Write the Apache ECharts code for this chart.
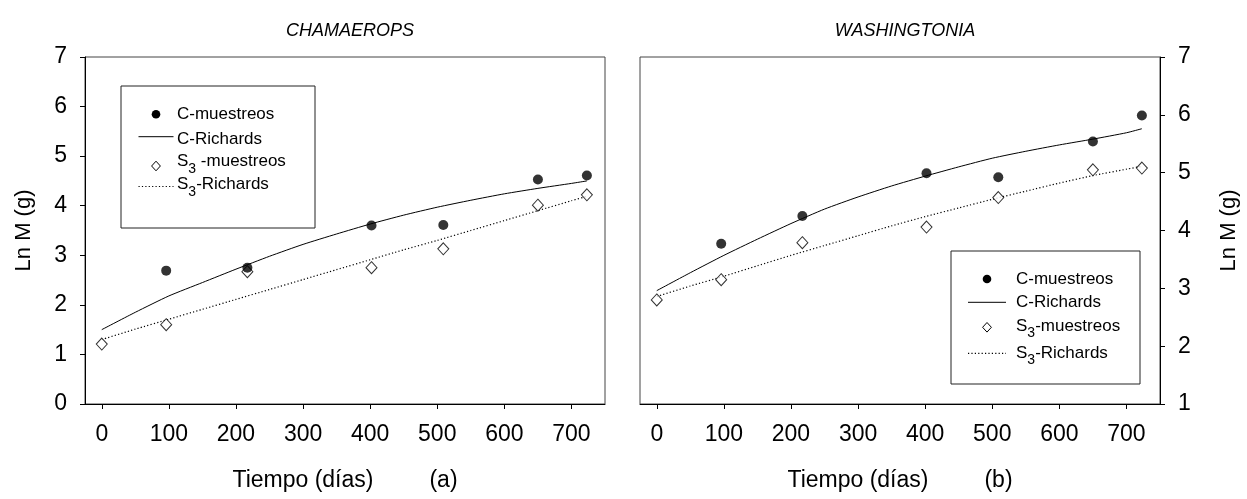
<!DOCTYPE html>
<html><head><meta charset="utf-8">
<script src="https://cdn.jsdelivr.net/npm/echarts@6/dist/echarts.min.js"></script>
<style>html,body{margin:0;padding:0;background:#fff}#chart{width:1247px;height:499px}</style>
</head><body><div id="chart"></div>
<script>
// ---- data ----
const sampleDays = [0, 96, 217, 402, 509, 650, 723];
const chamC  = [null, 2.69, 2.75, 3.60, 3.61, 4.53, 4.61];
const chamS3 = [1.21, 1.60, 2.67, 2.75, 3.13, 4.01, 4.22];
const washC  = [null, 3.77, 4.25, 4.99, 4.92, 5.54, 5.99];
const washS3 = [2.80, 3.15, 3.79, 4.06, 4.57, 5.05, 5.08];

const fitDays   = [0, 50, 100, 150, 200, 250, 300, 350, 400, 450, 500, 550, 600, 650, 700, 723];
const chamCFit  = [1.50, 1.85, 2.18, 2.45, 2.72, 2.98, 3.22, 3.43, 3.63, 3.81, 3.97, 4.11, 4.24, 4.35, 4.45, 4.50];
const chamS3Fit = [1.30, 1.51, 1.71, 1.91, 2.11, 2.31, 2.51, 2.71, 2.91, 3.11, 3.30, 3.50, 3.70, 3.90, 4.10, 4.19];
const washCFit  = [2.96, 3.27, 3.57, 3.85, 4.12, 4.37, 4.58, 4.77, 4.94, 5.10, 5.25, 5.37, 5.48, 5.58, 5.69, 5.76];
const washS3Fit = [2.86, 3.04, 3.21, 3.39, 3.57, 3.74, 3.91, 4.08, 4.24, 4.39, 4.54, 4.68, 4.82, 4.95, 5.06, 5.11];

const xTicks = [0, 100, 200, 300, 400, 500, 600, 700];
const titles = ['CHAMAEROPS', 'WASHINGTONIA'];
const panelTags = ['(a)', '(b)'];
const seriesNames = ['C-muestreos', 'C-Richards', 'S3-muestreos', 'S3-Richards'];

// ---- chart ----
const FONT = '"Liberation Sans", Arial, Helvetica, sans-serif';
const pairs = (xs, ys) => xs.map((x, i) => ys[i] == null ? null : [x, ys[i]]).filter(p => p);

function xAxis(g, tag) {
  return {
    gridIndex: g, type: 'value', min: -25, max: 750,
    axisLine: { show: true, onZero: false, lineStyle: { color: '#000', width: 1 } },
    axisTick: { show: true, length: 5, customValues: xTicks, lineStyle: { color: '#000' } },
    axisLabel: { customValues: xTicks, margin: 19, fontSize: 23, color: '#000', fontFamily: FONT },
    splitLine: { show: false },
    name: '{t|Tiempo (días)}{s|' + tag + '}',
    nameLocation: 'middle', nameGap: 65,
    nameTextStyle: {
      fontFamily: FONT, color: '#000', fontSize: 23,
      rich: { t: { fontSize: 23, fontFamily: FONT, color: '#000' },
              s: { fontSize: 23, fontFamily: FONT, color: '#000', padding: [0, 0, 0, 56] } }
    }
  };
}
function yAxis(g, pos, min, gap) {
  return {
    gridIndex: g, type: 'value', position: pos, min: min, max: 7, interval: 1,
    axisLine: { show: true, onZero: false, lineStyle: { color: '#000', width: 1 } },
    axisTick: { show: true, length: 5, lineStyle: { color: '#000' } },
    axisLabel: { margin: 18, fontSize: 23, color: '#000', fontFamily: FONT },
    splitLine: { show: false },
    name: 'Ln M (g)', nameLocation: 'middle', nameGap: gap, nameRotate: 90,
    nameTextStyle: { fontSize: 22, color: '#000', fontFamily: FONT }
  };
}
function panelSeries(g, cPts, cFit, sPts, sFit) {
  return [
    { name: seriesNames[1], type: 'line', xAxisIndex: g, yAxisIndex: g, data: pairs(fitDays, cFit),
      showSymbol: false, symbol: 'none', smooth: 0.2, z: 2, silent: true,
      lineStyle: { color: '#000', width: 1, type: 'solid' }, itemStyle: { color: '#000' } },
    { name: seriesNames[3], type: 'line', xAxisIndex: g, yAxisIndex: g, data: pairs(fitDays, sFit),
      showSymbol: false, symbol: 'none', smooth: 0.2, z: 2, silent: true,
      lineStyle: { color: '#000', width: 1.2, type: [1.2, 2.2] }, itemStyle: { color: '#000' } },
    { name: seriesNames[0], type: 'scatter', xAxisIndex: g, yAxisIndex: g, data: pairs(sampleDays, cPts),
      symbol: 'circle', symbolSize: 10, z: 4, itemStyle: { color: '#000' } },
    { name: seriesNames[2], type: 'scatter', xAxisIndex: g, yAxisIndex: g, data: pairs(sampleDays, sPts),
      symbol: 'diamond', symbolSize: [11, 12], z: 3,
      itemStyle: { color: '#fff', borderColor: '#000', borderWidth: 1 } }
  ];
}

// legend key drawn as graphic elements (box, sample marks, labels)
function legendBox(b) {
  const els = [];
  els.push({ type: 'rect', shape: { x: b.x, y: b.y, width: b.w, height: b.h },
             style: { fill: '#fff', stroke: '#222', lineWidth: 1 }, z: 10 });
  const ix = b.iconX, tx = b.textX;
  els.push({ type: 'circle', shape: { cx: ix, cy: b.rows[0], r: 4.3 }, style: { fill: '#000' }, z: 11 });
  els.push({ type: 'line', shape: { x1: ix - b.lineHalf, y1: b.rows[1], x2: ix + b.lineHalf, y2: b.rows[1] },
             style: { stroke: '#000', lineWidth: 1 }, z: 11 });
  const dy = b.rows[2];
  els.push({ type: 'polygon', shape: { points: [[ix, dy - 4.8], [ix + 4.4, dy], [ix, dy + 4.8], [ix - 4.4, dy]] },
             style: { fill: '#fff', stroke: '#000', lineWidth: 1 }, z: 11 });
  els.push({ type: 'line', shape: { x1: ix - b.lineHalf, y1: b.rows[3], x2: ix + b.lineHalf, y2: b.rows[3] },
             style: { stroke: '#000', lineWidth: 1.2, lineDash: [1.2, 2.2] }, z: 11 });
  const rich = {
    n: { fontSize: 17, fontFamily: FONT, fill: '#000', verticalAlign: 'top', lineHeight: 17 },
    s: { fontSize: 14, fontFamily: FONT, fill: '#000', verticalAlign: 'top', padding: [b.subDrop, 0, 0, 0] }
  };
  const labels = [
    '{n|' + seriesNames[0] + '}',
    '{n|' + seriesNames[1] + '}',
    '{n|S}{s|3}{n|' + (b.spaced ? ' ' : '') + seriesNames[2].slice(2) + '}',
    '{n|S}{s|3}{n|' + seriesNames[3].slice(2) + '}'
  ];
  labels.forEach((t, i) => {
    els.push({ type: 'text', x: tx, y: b.textTops[i], z: 11,
               style: { text: t, rich: rich, font: '17px ' + FONT, fill: '#000', align: 'left', verticalAlign: 'top' } });
  });
  return els;
}

const chart = echarts.init(document.getElementById('chart'), null, { renderer: 'canvas' });
chart.setOption({
  animation: false,
  backgroundColor: '#fff',
  title: [
    { text: titles[0], left: 345, top: 17, textAlign: 'center',
      textStyle: { fontStyle: 'italic', fontWeight: 'normal', fontSize: 18, color: '#000', fontFamily: FONT } },
    { text: titles[1], left: 900, top: 17, textAlign: 'center',
      textStyle: { fontStyle: 'italic', fontWeight: 'normal', fontSize: 18, color: '#000', fontFamily: FONT } }
  ],
  grid: [
    { left: 85, top: 57, width: 520, height: 347, show: true, borderColor: '#444', borderWidth: 1, backgroundColor: 'transparent' },
    { left: 640, top: 57, width: 520, height: 347, show: true, borderColor: '#444', borderWidth: 1, backgroundColor: 'transparent' }
  ],
  graphic: { elements: [].concat(
    legendBox({ x: 121, y: 86, w: 194, h: 142, iconX: 156, lineHalf: 17.5, textX: 177,
                rows: [114.3, 136.7, 166, 186.5], textTops: [106, 130.5, 152.5, 175.5], subDrop: 10, spaced: true }),
    legendBox({ x: 951, y: 251, w: 189, h: 133, iconX: 987, lineHalf: 19, textX: 1016,
                rows: [279, 302.3, 327.3, 353.3], textTops: [270.5, 294, 318, 345], subDrop: 8, spaced: false })
  ) },
  xAxis: [xAxis(0, panelTags[0]), xAxis(1, panelTags[1])],
  yAxis: [yAxis(0, 'left', 0, 50), yAxis(1, 'right', 1, 58)],
  series: [].concat(
    panelSeries(0, chamC, chamCFit, chamS3, chamS3Fit),
    panelSeries(1, washC, washCFit, washS3, washS3Fit)
  )
});
</script></body></html>
